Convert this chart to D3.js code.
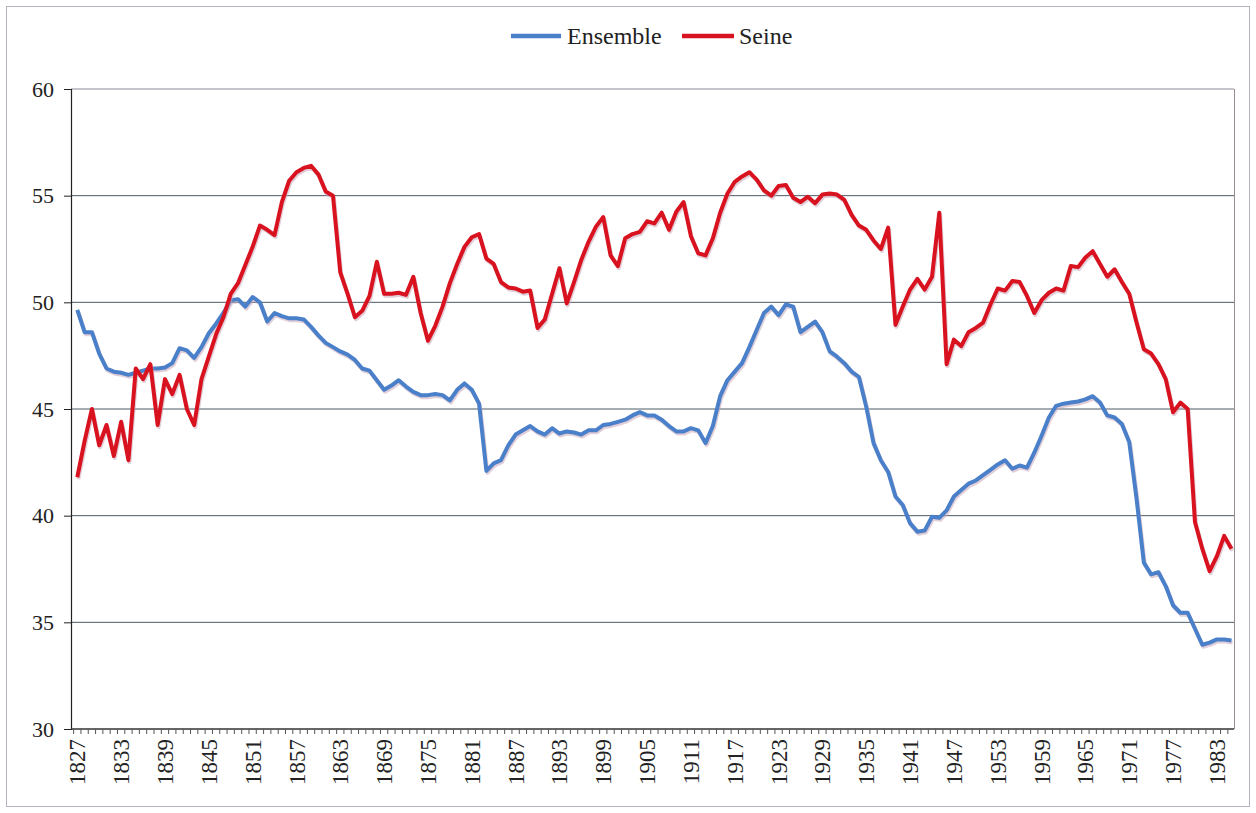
<!DOCTYPE html>
<html>
<head>
<meta charset="utf-8">
<script src="https://cdn.jsdelivr.net/npm/d3@7/dist/d3.min.js"></script>
<style>
  html, body { margin: 0; padding: 0; background: #fff; }
  svg { display: block; }
  text { font-family: "Liberation Serif", "Times New Roman", serif; fill: #222; }
</style>
</head>
<body>
<svg id="chart" width="1256" height="813"></svg>
<script>
// Years 1827–1985, one point per year
const years = d3.range(1827, 1986);

const seine = [
  41.8, 43.5, 45.0, 43.3, 44.25, 42.8, 44.4, 42.6, 46.9, 46.4,
  47.1, 44.25, 46.4, 45.7, 46.6, 45.0, 44.25, 46.4, 47.45, 48.5,
  49.3, 50.4, 50.9, 51.75, 52.6, 53.6, 53.4, 53.15, 54.7, 55.7,
  56.1, 56.3, 56.4, 56.0, 55.2, 55.0, 51.4, 50.4, 49.3, 49.6,
  50.3, 51.9, 50.4, 50.4, 50.45, 50.35, 51.2, 49.5, 48.2, 48.9,
  49.8, 50.9, 51.8, 52.6, 53.05, 53.2, 52.05, 51.8, 50.95, 50.7,
  50.65, 50.5, 50.55, 48.8, 49.2, 50.4, 51.6, 49.95, 50.95, 52.0,
  52.85, 53.55, 54.0, 52.2, 51.7, 53.0, 53.2, 53.3, 53.8, 53.7,
  54.2, 53.4, 54.25, 54.7, 53.1, 52.3, 52.2, 53.0, 54.2, 55.1,
  55.65, 55.9, 56.1, 55.75, 55.25, 55.0, 55.45, 55.5, 54.9, 54.7,
  54.95, 54.65, 55.05, 55.1, 55.05, 54.8, 54.1, 53.6, 53.4, 52.9,
  52.5, 53.5, 48.95, 49.8, 50.6, 51.1, 50.6, 51.2, 54.2, 47.1,
  48.25, 47.95, 48.6, 48.8, 49.05, 49.9, 50.65, 50.55, 51.0, 50.95,
  50.3, 49.5, 50.1, 50.45, 50.65, 50.55, 51.7, 51.65, 52.1, 52.4,
  51.8, 51.2, 51.55, 50.95, 50.4, 49.05, 47.8, 47.6, 47.1, 46.4,
  44.85, 45.3, 45.0, 39.7, 38.45, 37.4, 38.1, 39.05, 38.45
];

const ensemble = [
  49.65, 48.6, 48.6, 47.6, 46.9, 46.75, 46.7, 46.6, 46.7, 46.8,
  46.9, 46.9, 46.95, 47.15, 47.85, 47.75, 47.4, 47.9, 48.55, 49.0,
  49.5, 50.1, 50.15, 49.8, 50.25, 50.0, 49.1, 49.5, 49.35, 49.25,
  49.25, 49.2, 48.85, 48.45, 48.1, 47.9, 47.7, 47.55, 47.3, 46.9,
  46.8, 46.35, 45.9, 46.1, 46.35, 46.05, 45.8, 45.65, 45.65, 45.7,
  45.65, 45.4, 45.9, 46.2, 45.9, 45.25, 42.1, 42.45, 42.6, 43.3,
  43.8, 44.0, 44.2, 43.95, 43.8, 44.1, 43.85, 43.95, 43.9, 43.8,
  44.0, 44.0, 44.25, 44.3, 44.4, 44.5, 44.7, 44.85, 44.7, 44.7,
  44.5, 44.2, 43.95, 43.95, 44.1, 44.0, 43.4, 44.2, 45.6, 46.35,
  46.75, 47.15, 47.9, 48.7, 49.5, 49.8, 49.4, 49.9, 49.8, 48.6,
  48.85, 49.1, 48.6, 47.7, 47.45, 47.15, 46.75, 46.5, 45.1, 43.4,
  42.6, 42.05, 40.9, 40.5, 39.65, 39.25, 39.3, 39.95, 39.9, 40.25,
  40.9, 41.2, 41.5, 41.65, 41.9, 42.15, 42.4, 42.6, 42.2, 42.35,
  42.25, 42.95, 43.75, 44.6, 45.15, 45.25, 45.3, 45.35, 45.45, 45.6,
  45.3, 44.7, 44.6, 44.3, 43.45, 40.8, 37.8, 37.25, 37.35, 36.7,
  35.8, 35.45, 35.45, 34.7, 33.95, 34.05, 34.2, 34.2, 34.15
];

const yTicks = [30, 35, 40, 45, 50, 55, 60];
const seriesNames = ["Ensemble", "Seine"];
const seriesColors = ["#4a7fc9", "#d9121f"];

const svg = d3.select("#chart");
const W = 1256, H = 813;
const plot = { left: 71, right: 1234, top: 89, bottom: 729 };

// outer frame
svg.append("rect")
  .attr("x", 6.5).attr("y", 6.5)
  .attr("width", W - 13).attr("height", H - 13)
  .attr("fill", "none").attr("stroke", "#b4b4bc").attr("stroke-width", 1);

// one point per year along the category axis
const x = d3.scalePoint().domain(years).range([77.3, 1231.5]);
const step = x.step();
const y = d3.scaleLinear().domain([30, 60]).range([plot.bottom, plot.top]);

// horizontal gridlines
svg.append("g").selectAll("line")
  .data(yTicks.filter(t => t > 30))
  .join("line")
  .attr("x1", plot.left).attr("x2", plot.right)
  .attr("y1", d => y(d)).attr("y2", d => y(d))
  .attr("stroke", d => d === 60 ? "#8a8a98" : "#4d5a66")
  .attr("stroke-width", 1);

// right border of the plot area
svg.append("line")
  .attr("x1", plot.right + 0.5).attr("x2", plot.right + 0.5)
  .attr("y1", plot.top).attr("y2", plot.bottom)
  .attr("stroke", "#9a8c8c").attr("stroke-width", 1);

// y axis
const yAxis = d3.axisLeft(y).tickValues(yTicks).tickSize(7).tickPadding(10).tickFormat(d3.format("d"));
const gy = svg.append("g").attr("transform", `translate(${plot.left},0)`).call(yAxis);
gy.select(".domain").attr("stroke", "#222").attr("stroke-width", 1.2);
gy.selectAll(".tick line").attr("stroke", "#222");
gy.selectAll(".tick text").attr("font-size", 22).attr("fill", "#222")
  .attr("font-family", "'Liberation Serif', serif");

// x axis: a tick between every year, a label every six years
const gx = svg.append("g").attr("transform", `translate(0,${plot.bottom})`);
gx.append("line")
  .attr("x1", plot.left).attr("x2", plot.right)
  .attr("stroke", "#333").attr("stroke-width", 1.5);
gx.selectAll("line.yt")
  .data(years)
  .join("line").attr("class", "yt")
  .attr("x1", d => x(d) - step / 2)
  .attr("x2", d => x(d) - step / 2)
  .attr("y1", 0).attr("y2", 5)
  .attr("stroke", "#555").attr("stroke-width", 1);
const labelYears = years.filter((d, i) => i % 6 === 0);
gx.selectAll("text.yl")
  .data(labelYears)
  .join("text").attr("class", "yl")
  .attr("transform", d => `translate(${x(d)},${10}) rotate(-90)`)
  .attr("text-anchor", "end")
  .attr("dy", "0.35em")
  .attr("font-size", 23)
  .text(d => d);

// series lines with a soft drop shadow
const line = d3.line().x((d, i) => x(years[i])).y(d => y(d));
const seriesData = [ensemble, seine];
seriesData.forEach((vals, k) => {
  svg.append("path")
    .attr("d", line(vals))
    .attr("fill", "none")
    .attr("stroke", "#c8a6b8")
    .attr("stroke-opacity", 0.55)
    .attr("stroke-width", 4)
    .attr("stroke-linejoin", "round")
    .attr("transform", "translate(1,2)");
  svg.append("path")
    .attr("d", line(vals))
    .attr("fill", "none")
    .attr("stroke", seriesColors[k])
    .attr("stroke-width", 4)
    .attr("stroke-linejoin", "round");
});

// legend
const legend = svg.append("g");
const legendItems = [
  { name: seriesNames[0], color: seriesColors[0], x0: 511, x1: 561, tx: 567 },
  { name: seriesNames[1], color: seriesColors[1], x0: 682, x1: 734, tx: 739 }
];
legendItems.forEach(it => {
  legend.append("line")
    .attr("x1", it.x0).attr("x2", it.x1)
    .attr("y1", 36).attr("y2", 36)
    .attr("stroke", it.color).attr("stroke-width", 4.5);
  legend.append("text")
    .attr("x", it.tx).attr("y", 36).attr("dy", "0.35em")
    .attr("font-size", 24).attr("fill", "#2a2a2a")
    .text(it.name);
});
</script>
</body>
</html>
